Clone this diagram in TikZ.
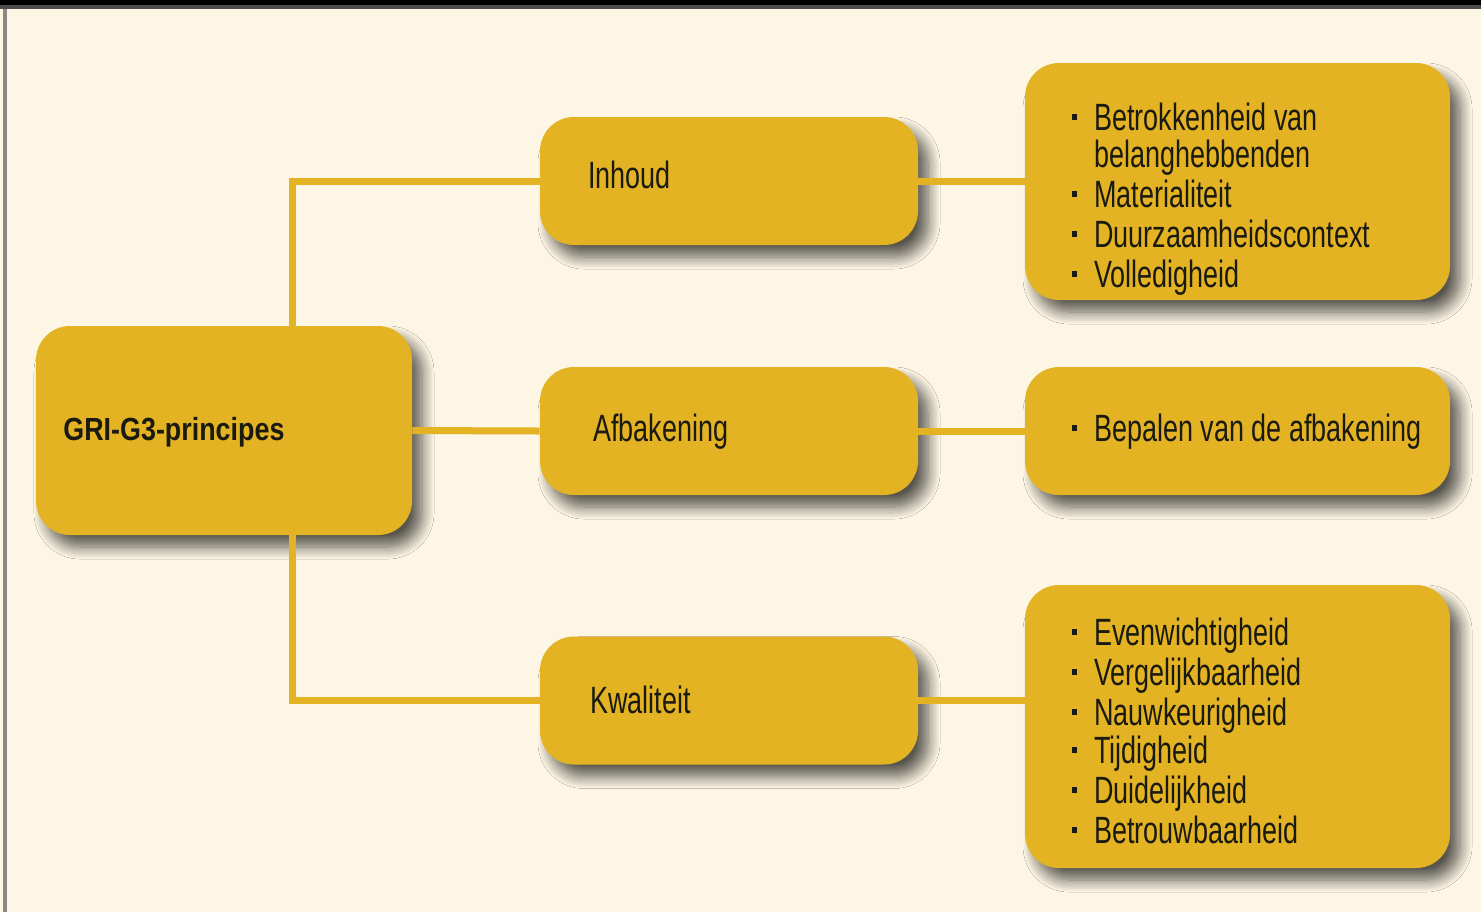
\documentclass[tikz,border=0pt]{standalone}
\usepackage{fontspec}
\setmainfont{Liberation Sans}
\newfontfamily\nf[FakeStretch=0.71]{Liberation Sans}
\newfontfamily\nfb[FakeStretch=0.84]{Liberation Sans}
\usetikzlibrary{shadows.blur}
\definecolor{bg}{HTML}{FDF6E4}
\definecolor{gold}{HTML}{E3B324}
\definecolor{framegray}{HTML}{8C8782}
\definecolor{txtc}{HTML}{1A1A10}
\newcommand\bul{\makebox[0pt][r]{\rule[5pt]{2.5pt}{3pt}\hspace{8.5pt}}}
\tikzset{
  box/.style={fill=gold, rounded corners=17pt, inner sep=0pt,
    blur shadow={shadow xshift=5pt, shadow yshift=-6pt, shadow opacity=65, shadow blur radius=6pt, shadow blur steps=12}},
  midbox/.style={box, minimum width=189pt, minimum height=64pt},
  rbox/.style={box, minimum width=212.5pt},
  conn/.style={draw=gold, line width=3.5pt},
  txt/.style={anchor=base west, inner sep=0pt, text=txtc, font=\nf\fontsize{19}{20}\selectfont},
  btxt/.style={anchor=base west, inner sep=0pt, text=txtc, font=\nfb\bfseries\fontsize{16}{18}\selectfont}
}
\begin{document}
\begin{tikzpicture}[x=0.5pt,y=-0.5pt]
\useasboundingbox (0,0) rectangle (1481,912);
\fill[bg] (0,0) rectangle (1481,912);
\fill[black] (0,0) rectangle (1481,4.5);
\fill[black!70] (0,4.5) rectangle (1481,8.5);
\fill[framegray] (3,8.5) rectangle (6.5,912);

% boxes
\node[box, minimum width=188pt, minimum height=104.5pt] (gri) at (224,430.5) {};
\node[midbox] (inh) at (729,181) {};
\node[midbox] (afb) at (729,431) {};
\node[midbox] (kwa) at (729,700.5) {};
\node[rbox, minimum height=118.5pt] (r1) at (1237.5,181.5) {};
\node[rbox, minimum height=64pt] (r2) at (1237.5,431) {};
\node[rbox, minimum height=141.5pt] (r3) at (1237.5,726.5) {};

% connectors
\coordinate (vx) at (292,0);
\draw[conn] (inh.west) -| (vx |- gri.north);
\draw[conn] (vx |- gri.south) |- (kwa.west);
\draw[conn] (gri.east) -- (afb.west);
\draw[conn] (inh.east) -- (inh.east -| r1.west);
\draw[conn] (afb.east) -- (r2.west);
\draw[conn] (kwa.east) -- (kwa.east -| r3.west);

% texts
\node[btxt] (tgri) at (63,440) {GRI-G3-principes};
\node[txt] (tinh) at (588,188) {Inhoud};
\node[txt] (tafb) at (593,441) {Afbakening};
\node[txt] (tkwa) at (590,713) {Kwaliteit};

\node[txt] (a1) at (1094,130) {\bul Betrokkenheid van};
\node[txt] (a2) at (1094,167) {belanghebbenden};
\node[txt] (a3) at (1094,207) {\bul Materialiteit};
\node[txt] (a4) at (1094,247) {\bul Duurzaamheidscontext};
\node[txt] (a5) at (1094,287) {\bul Volledigheid};

\node[txt] (b1) at (1094,441) {\bul Bepalen van de afbakening};

\node[txt] (c1) at (1094,645) {\bul Evenwichtigheid};
\node[txt] (c2) at (1094,685) {\bul Vergelijkbaarheid};
\node[txt] (c3) at (1094,725) {\bul Nauwkeurigheid};
\node[txt] (c4) at (1094,763) {\bul Tijdigheid};
\node[txt] (c5) at (1094,803) {\bul Duidelijkheid};
\node[txt] (c6) at (1094,843) {\bul Betrouwbaarheid};
\end{tikzpicture}
\end{document}
